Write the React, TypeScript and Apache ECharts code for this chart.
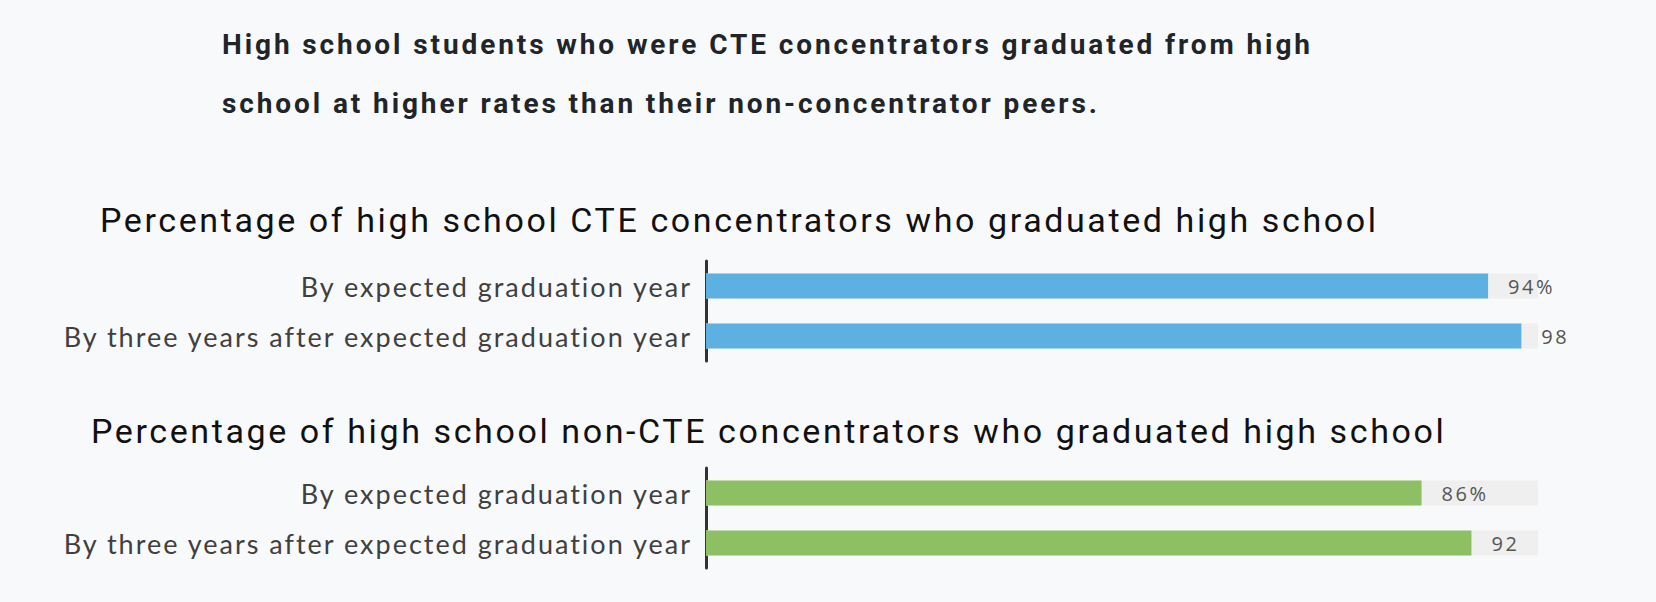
import React, { useEffect, useRef } from "react";
import * as echarts from "echarts";

const headline = [
  "High school students who were CTE concentrators graduated from high",
  "school at higher rates than their non-concentrator peers.",
];
const groupTitles = [
  "Percentage of high school CTE concentrators who graduated high school",
  "Percentage of high school non-CTE concentrators who graduated high school",
];
const categories = [
  "By expected graduation year",
  "By three years after expected graduation year",
];
const cteValues = [94, 98];
const nonCteValues = [86, 92];
const cteLabels = ["94%", "98"];
const nonCteLabels = ["86%", "92"];

const BG = "#f8f9fb";
const BLUE = "#5cb0e2";
const GREEN = "#8cc063";
const TRACK = "#efefef";

export default function App() {
  const ref = useRef<HTMLDivElement>(null);
  useEffect(() => {
    document.body.style.margin = "0";
    const chart = echarts.init(ref.current!, null, { renderer: "svg" });
    const yAxisBase = (gridIndex: number) => ({
      type: "category" as const,
      gridIndex,
      data: categories,
      inverse: true,
      axisTick: { show: false },
      axisLine: { show: true, lineStyle: { color: "#333", width: 3 } },
      axisLabel: {
        margin: 14,
        fontFamily: "Lato",
        fontWeight: 400,
        fontSize: 27,
        color: "#404040",
      },
    });
    const xAxisBase = (gridIndex: number) => ({
      type: "value" as const,
      gridIndex,
      min: 0,
      max: 100,
      show: false,
    });
    const seriesBase = (idx: number, values: number[], labels: string[], color: string) => ({
      type: "bar" as const,
      xAxisIndex: idx,
      yAxisIndex: idx,
      data: values,
      barWidth: 25,
      itemStyle: { color },
      showBackground: true,
      backgroundStyle: { color: TRACK },
      label: {
        show: true,
        position: "right" as const,
        distance: 20,
        fontFamily: "Open Sans",
        fontSize: 20,
        color: "#555",
        formatter: (p: any) => labels[p.dataIndex],
      },
    });
    chart.setOption({
      animation: false,
      backgroundColor: BG,
      title: [
        {
          text: headline.join("\n"),
          left: 217,
          top: 10,
          textStyle: {
            fontFamily: "Roboto",
            fontWeight: "bold",
            fontSize: 28,
            lineHeight: 59,
            color: "#212529",
          },
        },
        {
          text: groupTitles[0],
          left: 95,
          top: 195,
          textStyle: {
            fontFamily: "Roboto",
            fontWeight: "normal",
            fontSize: 34,
            lineHeight: 40,
            color: "#111",
          },
        },
        {
          text: groupTitles[1],
          left: 86,
          top: 406,
          textStyle: {
            fontFamily: "Roboto",
            fontWeight: "normal",
            fontSize: 34,
            lineHeight: 40,
            color: "#111",
          },
        },
      ],
      grid: [
        { left: 706, width: 832, top: 261, height: 100 },
        { left: 706, width: 832, top: 468, height: 100 },
      ],
      xAxis: [xAxisBase(0), xAxisBase(1)],
      yAxis: [yAxisBase(0), yAxisBase(1)],
      series: [
        seriesBase(0, cteValues, cteLabels, BLUE),
        seriesBase(1, nonCteValues, nonCteLabels, GREEN),
      ],
    });

    const spacing = new Map<string, string>();
    headline.forEach((t) => spacing.set(t, "2.9px"));
    groupTitles.forEach((t) => spacing.set(t, "2.6px"));
    categories.forEach((t) => spacing.set(t, "2.0px"));
    [...cteLabels, ...nonCteLabels].forEach((t) => spacing.set(t, "2.5px"));
    const applySpacing = () => {
      const root = ref.current;
      if (!root) return;
      root.querySelectorAll("text").forEach((el) => {
        const s = spacing.get((el.textContent || "").trim());
        if (s) (el as SVGTextElement).style.letterSpacing = s;
      });
    };
    applySpacing();
    chart.on("finished", applySpacing);
    const raf = requestAnimationFrame(applySpacing);
    return () => {
      cancelAnimationFrame(raf);
      chart.dispose();
    };
  }, []);
  return <div ref={ref} style={{ width: 1656, height: 602 }} />;
}
